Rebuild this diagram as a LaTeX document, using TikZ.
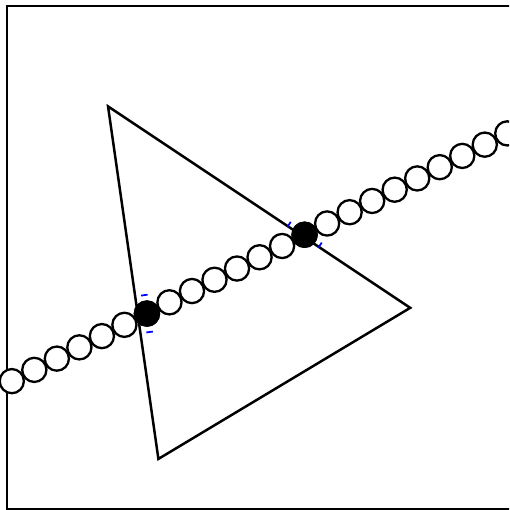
\documentclass[tikz,border=0pt]{standalone}
\usepackage{tikz}

\begin{document}
\begin{tikzpicture}[
    bead/.style={draw, fill=white, line width=1.3pt},
    hit/.style={draw, fill=black, line width=1.3pt},
    tickmark/.style={blue, line width=1pt},
]
    \useasboundingbox (-0.145,-0.014) rectangle (9.962,10.113);
    \clip (-0.145,-0.014) rectangle (9.962,10.113);
    % Frame
    \draw[line width=1pt] (0,0) rectangle (10,10);
    % Triangle
    \coordinate (A) at (2,8);
    \coordinate (B) at (8,4);
    \coordinate (C) at (3,1);
    \draw[line width=1.4pt, line join=miter] (A) -- (B) -- (C) -- cycle;
    % Chain of beads along y = x/2 + 5/2
    \foreach \j in {0,...,22}
        \draw[bead] ({(0.1+0.5*\j)*0.894427}, {2.5+(0.1+0.5*\j)*0.447214}) circle (0.24);
    % Beads at the crossings
    \draw[hit] ({3.1*0.894427}, {2.5+3.1*0.447214}) circle (0.24);
    \draw[hit] ({6.6*0.894427}, {2.5+6.6*0.447214}) circle (0.24);
    % Ticks on the edges
    \draw[tickmark] (2.656,4.243) -- (2.785,4.262);
    \draw[tickmark] (2.761,3.511) -- (2.889,3.529);
    \draw[tickmark] (5.562,5.607) -- (5.628,5.707);
    \draw[tickmark] (6.178,5.196) -- (6.244,5.296);
\end{tikzpicture}
\end{document}
